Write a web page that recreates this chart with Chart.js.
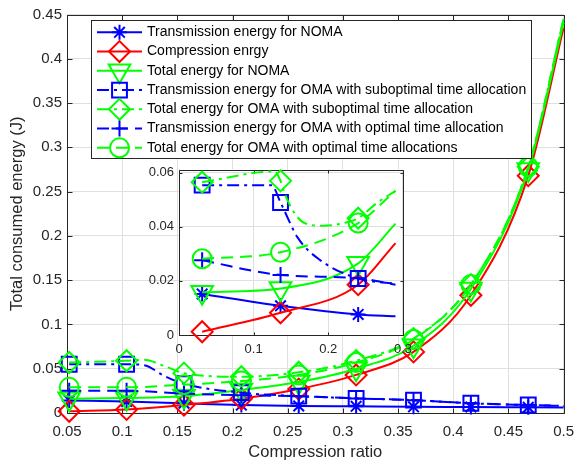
<!DOCTYPE html>
<html>
<head>
<meta charset="utf-8">
<script src="https://cdn.jsdelivr.net/npm/chart.js@4.4.1/dist/chart.umd.min.js"></script>
<style>
  html, body { margin: 0; padding: 0; background: #fff; }
  #wrap { position: relative; width: 584px; height: 464px; }
  #mainChart { position: absolute; left: 0; top: 0; }
  #insetChart { position: absolute; left: 139px; top: 155px; }
</style>
</head>
<body>
<div id="wrap">
  <canvas id="mainChart" width="584" height="464"></canvas>
  <canvas id="insetChart" width="280" height="202"></canvas>
</div>
<script>
// ---- main plot data ----
const ratio = [0.052, 0.104, 0.156, 0.208, 0.26, 0.312, 0.364, 0.416, 0.468, 0.5];
const ratioSub = [0.052, 0.104, 0.12, 0.138, 0.156, 0.208, 0.26, 0.312, 0.364, 0.416, 0.468, 0.5];
const markRatio = [0.052, 0.104, 0.156, 0.208, 0.26, 0.312, 0.364, 0.416, 0.468];

const transNoma   = [0.014, 0.013, 0.011, 0.009, 0.008, 0.0075, 0.007, 0.0068, 0.0065, 0.0063];
const compression = [0.002, 0.004, 0.009, 0.016, 0.027, 0.043, 0.069, 0.133, 0.268, 0.435];
const totalNoma   = [0.016, 0.017, 0.019, 0.026, 0.035, 0.05, 0.076, 0.14, 0.275, 0.441];
const transOmaSub = [0.055, 0.055, 0.054, 0.042, 0.033, 0.023, 0.019, 0.0165, 0.0145, 0.011, 0.009, 0.008];
const totalOmaSub = [0.057, 0.059, 0.06, 0.053, 0.045, 0.041, 0.046, 0.059, 0.084, 0.145, 0.278, 0.445];
const transOmaOpt = [0.025, 0.025, 0.022, 0.02, 0.019, 0.0165, 0.0145, 0.011, 0.009, 0.008];
const totalOmaOpt = [0.029, 0.029, 0.032, 0.036, 0.043, 0.057, 0.083, 0.145, 0.278, 0.445];

const xTicks = [0.05, 0.1, 0.15, 0.2, 0.25, 0.3, 0.35, 0.4, 0.45, 0.5];
const yTicks = [0, 0.05, 0.1, 0.15, 0.2, 0.25, 0.3, 0.35, 0.4, 0.45];

// ---- zoomed inset data ----
const inX = [0.031, 0.136, 0.24, 0.29];
const inSubX = [0.031, 0.124, 0.136, 0.159, 0.189, 0.24, 0.29];
const inSubTotX = [0.031, 0.128, 0.136, 0.142, 0.155, 0.168, 0.194, 0.221, 0.24, 0.264, 0.29];
const inMarks = [0.031, 0.136, 0.24];

const inTransNoma   = [0.0152, 0.0108, 0.0076, 0.0069];
const inCompression = [0.0012, 0.0082, 0.0186, 0.034];
const inTotalNoma   = [0.0158, 0.0172, 0.0265, 0.0412];
const inTransOmaSub = [0.0554, 0.0554, 0.049, 0.036, 0.0277, 0.0209, 0.019];
const inTotalOmaSub = [0.0565, 0.0605, 0.057, 0.052, 0.045, 0.0414, 0.0404, 0.0414, 0.0432, 0.0486, 0.0533];
const inTransOmaOpt = [0.0276, 0.0222, 0.021, 0.0186];
const inTotalOmaOpt = [0.0282, 0.0306, 0.0414, 0.0533];

const inXTicks = [0, 0.1, 0.2, 0.3];
const inYTicks = [0, 0.02, 0.04, 0.06];

const BLUE = '#0000ff', RED = '#ff0000', GREEN = '#00ff00';
const DASH = [12, 7], DASHDOT = [12, 5, 3, 5];
const FONT = '"Liberation Sans", Arial, Helvetica, sans-serif';

Chart.defaults.font.family = FONT;
Chart.defaults.color = '#262626';

function lineSet(label, xs, ys, color, dash, style, radius, marks, rotation) {
  return {
    label: label,
    data: xs.map((x, i) => ({ x: x, y: ys[i] })),
    borderColor: color,
    borderWidth: 2,
    borderDash: dash,
    pointStyle: style,
    pointRotation: rotation || 0,
    markerRadius: radius,
    pointRadius: c => (c.raw && marks.includes(c.raw.x)) ? radius : 0,
    pointBorderColor: color,
    pointBorderWidth: 2,
    pointBackgroundColor: 'rgba(0,0,0,0)',
    cubicInterpolationMode: 'monotone',
    clip: false
  };
}

function fmt(v) { return String(Number(v.toFixed(3))); }

// box around the plot area with inward tick marks, white plot background
const axesBox = {
  id: 'axesBox',
  beforeDraw(chart, args, opts) {
    if (!opts.fill) return;
    const a = chart.chartArea, ctx = chart.ctx;
    ctx.save();
    ctx.fillStyle = opts.fill;
    ctx.fillRect(a.left, a.top, a.right - a.left, a.bottom - a.top);
    ctx.restore();
  },
  beforeDatasetsDraw(chart, args, opts) {
    const ctx = chart.ctx, a = chart.chartArea;
    const xs = chart.scales.x, ys = chart.scales.y;
    const L = Math.round(a.left) + 0.5, R = Math.round(a.right) + 0.5;
    const T = Math.round(a.top) + 0.5, B = Math.round(a.bottom) + 0.5;
    const len = opts.tickLen;
    ctx.save();
    ctx.strokeStyle = '#262626';
    ctx.lineWidth = 1;
    ctx.beginPath();
    ctx.rect(L, T, R - L, B - T);
    xs.ticks.forEach(t => {
      const p = Math.round(xs.getPixelForValue(t.value)) + 0.5;
      ctx.moveTo(p, B); ctx.lineTo(p, B - len);
      ctx.moveTo(p, T); ctx.lineTo(p, T + len);
    });
    ys.ticks.forEach(t => {
      const p = Math.round(ys.getPixelForValue(t.value)) + 0.5;
      ctx.moveTo(L, p); ctx.lineTo(L + len, p);
      ctx.moveTo(R, p); ctx.lineTo(R - len, p);
    });
    ctx.stroke();
    ctx.restore();
  }
};

// legend with line sample + marker for each series
const lineLegend = {
  id: 'lineLegend',
  afterDraw(chart, args, opts) {
    const ctx = chart.ctx;
    ctx.save();
    ctx.fillStyle = '#fff';
    ctx.fillRect(opts.left, opts.top, opts.width, opts.height);
    ctx.strokeStyle = '#262626';
    ctx.lineWidth = 1;
    ctx.strokeRect(opts.left + 0.5, opts.top + 0.5, opts.width, opts.height);
    ctx.font = '14px ' + FONT;
    ctx.textBaseline = 'middle';
    chart.data.datasets.forEach((ds, i) => {
      const yy = opts.top + opts.firstRow + i * opts.rowGap;
      ctx.strokeStyle = ds.borderColor;
      ctx.lineWidth = 2;
      ctx.setLineDash(ds.borderDash || []);
      ctx.beginPath();
      ctx.moveTo(opts.lineFrom, yy);
      ctx.lineTo(opts.lineTo, yy);
      ctx.stroke();
      ctx.setLineDash([]);
      ctx.fillStyle = 'rgba(0,0,0,0)';
      Chart.helpers.drawPoint(ctx, {
        pointStyle: ds.pointStyle, rotation: ds.pointRotation,
        radius: ds.markerRadius, borderWidth: 2
      }, (opts.lineFrom + opts.lineTo) / 2, yy);
      ctx.fillStyle = '#000';
      ctx.fillText(ds.label, opts.textX, yy);
    });
    ctx.restore();
  }
};

const mainSets = [
  lineSet('Transmission energy for NOMA', ratio, transNoma, BLUE, [], 'star', 7.5, markRatio),
  lineSet('Compression enrgy', ratio, compression, RED, [], 'rectRot', 10.5, markRatio),
  lineSet('Total energy for NOMA', ratio, totalNoma, GREEN, [], 'triangle', 12.5, markRatio, 180),
  lineSet('Transmission energy for OMA with suboptimal time allocation', ratioSub, transOmaSub, BLUE, DASHDOT, 'rect', 10.5, markRatio),
  lineSet('Total energy for OMA with suboptimal time allocation', ratioSub, totalOmaSub, GREEN, DASHDOT, 'rectRot', 10.5, markRatio),
  lineSet('Transmission energy for OMA with optimal time allocation', ratio, transOmaOpt, BLUE, DASH, 'cross', 8, markRatio),
  lineSet('Total energy for OMA with optimal time allocations', ratio, totalOmaOpt, GREEN, DASH, 'circle', 9.5, markRatio)
];
mainSets.forEach((d, i) => { d.order = mainSets.length - i; });

new Chart(document.getElementById('mainChart'), {
  type: 'line',
  data: { datasets: mainSets },
  plugins: [axesBox, lineLegend],
  options: {
    responsive: false,
    animation: false,
    events: [],
    layout: { padding: { top: 14, right: 10, left: 0, bottom: 0 } },
    plugins: {
      legend: { display: false },
      tooltip: { enabled: false },
      axesBox: { tickLen: 5 },
      lineLegend: {
        left: 91, top: 20, width: 440, height: 138,
        firstRow: 12.3, rowGap: 19.25,
        lineFrom: 97, lineTo: 142, textX: 147
      }
    },
    scales: {
      x: {
        type: 'linear', min: 0.05, max: 0.5,
        afterBuildTicks: s => { s.ticks = xTicks.map(v => ({ value: v })); },
        afterFit: s => { s.height = 51; },
        grid: { color: '#dfdfdf', drawTicks: false },
        border: { display: false },
        ticks: { autoSkip: false, maxRotation: 0, minRotation: 0, padding: 10,
                 font: { size: 15 }, callback: v => fmt(v) },
        title: { display: true, text: 'Compression ratio', font: { size: 16.5 },
                 padding: { top: 0, bottom: 2 } }
      },
      y: {
        type: 'linear', min: 0, max: 0.45,
        afterBuildTicks: s => { s.ticks = yTicks.map(v => ({ value: v })); },
        afterFit: s => { s.width = 67; },
        grid: { color: '#dfdfdf', drawTicks: false },
        border: { display: false },
        ticks: { autoSkip: false, padding: 5, font: { size: 15 }, callback: v => fmt(v) },
        title: { display: true, text: 'Total consumed energy (J)', font: { size: 16.5 },
                 padding: { top: 8, bottom: 0 } }
      }
    }
  }
});

// ---- zoomed inset ----
const insetSets = [
  lineSet('Transmission energy for NOMA', inX, inTransNoma, BLUE, [], 'star', 7.5, inMarks),
  lineSet('Compression enrgy', inX, inCompression, RED, [], 'rectRot', 10.5, inMarks),
  lineSet('Total energy for NOMA', inX, inTotalNoma, GREEN, [], 'triangle', 12.5, inMarks, 180),
  lineSet('Transmission energy for OMA with suboptimal time allocation', inSubX, inTransOmaSub, BLUE, DASHDOT, 'rect', 10.5, inMarks),
  lineSet('Total energy for OMA with suboptimal time allocation', inSubTotX, inTotalOmaSub, GREEN, DASHDOT, 'rectRot', 10.5, inMarks),
  lineSet('Transmission energy for OMA with optimal time allocation', inX, inTransOmaOpt, BLUE, DASH, 'cross', 8, inMarks),
  lineSet('Total energy for OMA with optimal time allocations', inX, inTotalOmaOpt, GREEN, DASH, 'circle', 9.5, inMarks)
];
insetSets.forEach((d, i) => { d.order = insetSets.length - i; });

new Chart(document.getElementById('insetChart'), {
  type: 'line',
  data: { datasets: insetSets },
  plugins: [axesBox],
  options: {
    responsive: false,
    animation: false,
    events: [],
    layout: { padding: { top: 10, right: 12, left: 0, bottom: 0 } },
    plugins: {
      legend: { display: false },
      tooltip: { enabled: false },
      axesBox: { tickLen: 3, fill: '#fff' }
    },
    scales: {
      x: {
        type: 'linear', min: 0, max: 0.3,
        afterBuildTicks: s => { s.ticks = inXTicks.map(v => ({ value: v })); },
        afterFit: s => { s.height = 22; },
        grid: { color: '#dfdfdf', drawTicks: false },
        border: { display: false },
        ticks: { autoSkip: false, maxRotation: 0, minRotation: 0, padding: 7,
                 font: { size: 13 }, callback: v => fmt(v) }
      },
      y: {
        type: 'linear', min: 0, max: 0.0612,
        afterBuildTicks: s => { s.ticks = inYTicks.map(v => ({ value: v })); },
        afterFit: s => { s.width = 40; },
        grid: { color: '#dfdfdf', drawTicks: false },
        border: { display: false },
        ticks: { autoSkip: false, padding: 5, font: { size: 13 }, callback: v => fmt(v) }
      }
    }
  }
});
</script>
</body>
</html>
